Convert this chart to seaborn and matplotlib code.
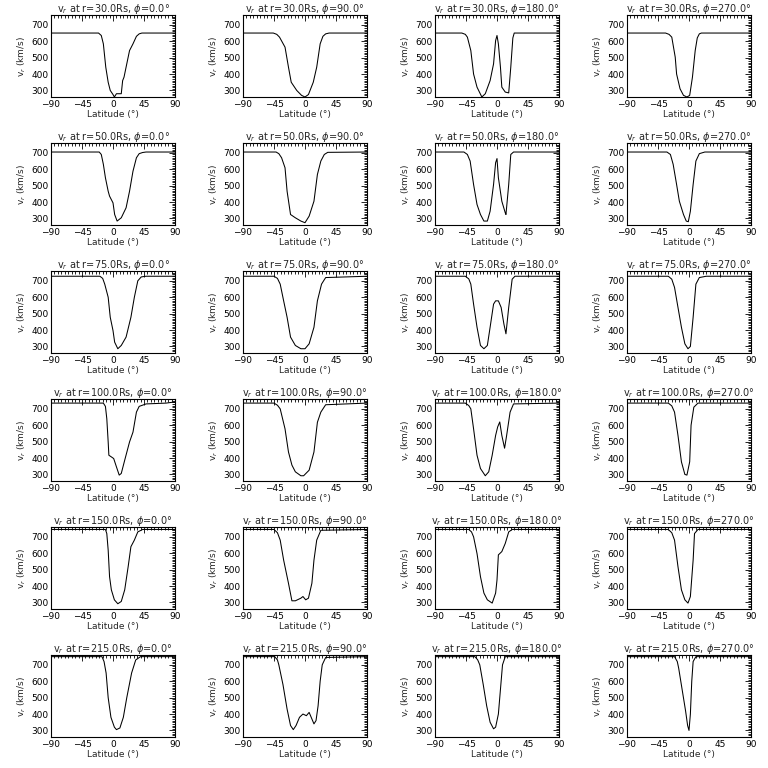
import numpy as np
import matplotlib
matplotlib.use("Agg")
import matplotlib.pyplot as plt
from matplotlib.ticker import MultipleLocator
import seaborn as sns

# radii (rows) and longitudes (columns)
radii = [30.0, 50.0, 75.0, 100.0, 150.0, 215.0]
phis = [0.0, 90.0, 180.0, 270.0]
xticks = [-90, -45, 0, 45, 90]
yticks = [300, 400, 500, 600, 700]

# r = 30 Rs
lat_30_0 = [-90, -21, -17, -14, -10.5, -7, -4, 0, 2, 5, 12, 14, 16, 19, 24, 29, 34, 38, 42, 90]
v_30_0 = [650, 650, 635, 584, 442, 350, 300, 275, 260, 280, 280, 360, 381, 442, 543, 584, 630, 645, 650, 650]
lat_30_90 = [-90, -46, -41, -37, -29, -24, -20, -12, -5, 0, 5, 12, 17, 22, 26, 30, 35, 90]
v_30_90 = [650, 650, 642, 625, 564, 442, 350, 300, 270, 260, 275, 350, 442, 584, 630, 645, 650, 650]
lat_30_180 = [-90, -51, -46, -43, -38, -34, -29, -22, -17, -10, -5, -2, 0, 2, 5, 7, 12, 17, 20, 23, 25, 90]
v_30_180 = [650, 650, 642, 625, 543, 400, 320, 260, 280, 360, 462, 604, 635, 584, 442, 320, 290, 285, 442, 620, 650, 650]
lat_30_270 = [-90, -34, -29, -25, -20, -18, -13, -8, -3, 1, 5, 9, 12, 15, 18, 90]
v_30_270 = [650, 650, 642, 625, 503, 400, 310, 270, 260, 270, 381, 543, 620, 645, 650, 650]

# r = 50 Rs
lat_50_0 = [-90, -20, -17, -14, -11, -7, -5, 0, 2.4, 6, 12, 19, 24, 29, 34, 38, 43, 48, 90]
v_50_0 = [705, 705, 690, 630, 548, 466, 436, 395, 324, 284, 304, 365, 466, 588, 670, 695, 702, 705, 705]
lat_50_90 = [-90, -42, -38, -34, -29, -26, -21, -14, -6, 0, 6, 13, 18, 23, 28, 33, 90]
v_50_90 = [705, 705, 695, 670, 609, 466, 324, 304, 284, 274, 314, 405, 568, 650, 690, 703, 705]
lat_50_180 = [-90, -48, -43, -39, -34, -29, -24, -19, -14, -10, -5, -2, 0, 2, 7, 12, 13, 17, 20, 24, 90]
v_50_180 = [705, 705, 690, 650, 507, 385, 324, 284, 284, 344, 507, 640, 665, 548, 405, 334, 324, 507, 690, 705, 705]
lat_50_270 = [-90, -32, -27, -23, -18, -14, -8, -4, -1, 2, 6, 10, 15, 23, 90]
v_50_270 = [705, 705, 690, 630, 507, 405, 324, 284, 280, 344, 507, 650, 695, 705, 705]

# r = 75 Rs
lat_75_0 = [-90, -19, -15, -12, -7, -4, 0, 2.4, 7, 12, 19, 26, 31, 36, 41, 48, 90]
v_75_0 = [728, 728, 715, 680, 600, 478, 397, 326, 286, 306, 357, 478, 600, 700, 724, 728, 728]
lat_75_90 = [-90, -45, -40, -36, -31, -26, -21, -14, -6, 0, 6, 13, 18, 24, 30, 90]
v_75_90 = [728, 728, 715, 680, 578, 478, 357, 306, 286, 286, 316, 417, 578, 680, 720, 728]
lat_75_180 = [-90, -46, -41, -38, -34, -29, -24, -19, -14, -10, -5, -2, 2, 6, 10, 13, 17, 22, 26, 90]
v_75_180 = [728, 728, 712, 680, 558, 417, 306, 286, 306, 417, 558, 578, 578, 538, 437, 377, 538, 710, 728, 728]
lat_75_270 = [-90, -30, -25, -21, -16, -11, -6, -1.5, 2, 6, 10, 15, 25, 90]
v_75_270 = [728, 728, 710, 660, 538, 417, 316, 286, 300, 478, 680, 720, 728, 728]

# r = 100 Rs
lat_100_0 = [-90, -14, -11, -9, -7, -6, -2.4, 1, 5, 9, 12, 17, 24, 29, 34, 38, 48, 77, 86, 90]
v_100_0 = [735, 735, 715, 640, 498, 417, 407, 397, 346, 296, 306, 387, 498, 558, 680, 715, 730, 735, 740, 740]
lat_100_90 = [-90, -45, -40, -36, -29, -24, -19, -14, -6, -2, 6, 13, 18, 23, 30, 90]
v_100_90 = [735, 735, 722, 700, 578, 437, 357, 316, 292, 292, 326, 437, 618, 680, 725, 735]
lat_100_180 = [-90, -46, -41, -38, -34, -29, -24, -17, -12, -7, -2, 1, 4, 7, 11, 14, 19, 24, 90]
v_100_180 = [735, 735, 720, 700, 578, 417, 336, 292, 316, 417, 538, 590, 620, 538, 460, 538, 680, 730, 735]
lat_100_270 = [-90, -30, -25, -21, -16, -11, -6, -3, 1, 3, 7, 13, 90]
v_100_270 = [735, 735, 718, 680, 538, 377, 300, 296, 377, 600, 710, 735, 735]

# r = 150 Rs
lat_150_0 = [-90, -11, -9, -7, -5, -2.4, 2, 7, 12, 17, 22, 26, 31, 36, 43, 90]
v_150_0 = [745, 745, 720, 619, 457, 377, 316, 292, 306, 377, 518, 640, 680, 730, 745, 745]
lat_150_90 = [-90, -45, -40, -36, -31, -24, -19, -14, -6, -3, 1, 5, 10, 13, 17, 23, 90]
v_150_90 = [745, 745, 725, 680, 558, 417, 310, 310, 326, 336, 316, 326, 417, 558, 680, 740, 745]
lat_150_180 = [-90, -41, -37, -34, -29, -24, -19, -14, -7, -2, 0, 2, 7, 12, 17, 22, 90]
v_150_180 = [745, 745, 730, 700, 598, 457, 357, 316, 296, 357, 437, 590, 610, 660, 730, 745, 745]
lat_150_270 = [-90, -30, -25, -21, -16, -11, -6, -1.5, 2, 6, 8, 13, 90]
v_150_270 = [745, 745, 725, 680, 518, 377, 316, 296, 336, 558, 720, 745, 745]

# r = 215 Rs
lat_215_0 = [-90, -16, -13, -10, -7, -3, 2, 5, 10, 15, 20, 27, 33, 40, 90]
v_215_0 = [750, 750, 720, 650, 500, 380, 320, 305, 315, 380, 500, 650, 730, 750, 750]
lat_215_90 = [-90, -44, -40, -38, -32, -26, -21, -17, -13, -8, -3, 2, 6, 10, 13, 16, 19, 22, 25, 30, 90]
v_215_90 = [750, 750, 730, 700, 580, 430, 330, 305, 330, 380, 400, 390, 410, 370, 340, 360, 450, 600, 700, 745, 750]
lat_215_180 = [-90, -32, -28, -25, -20, -15, -10, -5, -2, 2, 5, 8, 12, 90]
v_215_180 = [750, 750, 730, 700, 580, 450, 350, 310, 320, 400, 550, 700, 750, 750]
lat_215_270 = [-90, -21, -17, -15, -10, -5, -2, 0, 2, 4, 6, 10, 90]
v_215_270 = [750, 750, 720, 680, 550, 420, 330, 300, 400, 600, 720, 750, 750]

panels = [
    [(lat_30_0, v_30_0), (lat_30_90, v_30_90), (lat_30_180, v_30_180), (lat_30_270, v_30_270)],
    [(lat_50_0, v_50_0), (lat_50_90, v_50_90), (lat_50_180, v_50_180), (lat_50_270, v_50_270)],
    [(lat_75_0, v_75_0), (lat_75_90, v_75_90), (lat_75_180, v_75_180), (lat_75_270, v_75_270)],
    [(lat_100_0, v_100_0), (lat_100_90, v_100_90), (lat_100_180, v_100_180), (lat_100_270, v_100_270)],
    [(lat_150_0, v_150_0), (lat_150_90, v_150_90), (lat_150_180, v_150_180), (lat_150_270, v_150_270)],
    [(lat_215_0, v_215_0), (lat_215_90, v_215_90), (lat_215_180, v_215_180), (lat_215_270, v_215_270)],
]

sns.set_style("white")
plt.rcParams["font.family"] = ["DejaVu Sans"]
plt.rcParams["mathtext.fontset"] = "dejavusans"

fig = plt.figure(figsize=(7.68, 7.68), dpi=100)
W = 768.0
fs = 6.5

for i, r in enumerate(radii):
    for j, phi in enumerate(phis):
        lat, v = panels[i][j]
        left = (j * 192 + 51) / W
        bottom = 1 - (i * 128 + 97) / W
        ax = fig.add_axes([left, bottom, 124 / W, 82 / W])
        sns.lineplot(x=lat, y=v, ax=ax, color="black", linewidth=0.75,
                     errorbar=None, sort=False)
        ax.set_xlim(-90, 90)
        ax.set_ylim(260, 760)
        ax.set_xticks(xticks)
        ax.set_yticks(yticks)
        ax.xaxis.set_minor_locator(MultipleLocator(5))
        ax.yaxis.set_minor_locator(MultipleLocator(10))
        ax.tick_params(which="both", direction="in", top=True, right=True,
                       labelsize=fs, pad=2, width=0.6, colors="black")
        ax.tick_params(which="major", length=4)
        ax.tick_params(which="minor", length=2)
        for s in ax.spines.values():
            s.set_color("black")
            s.set_linewidth(0.8)
        ax.set_title(r"v$_r$ at r=%.1fRs, $\phi$=%.1f°" % (r, phi),
                     fontsize=fs + 0.5, pad=2)
        ax.set_xlabel("Latitude (°)", fontsize=fs, labelpad=1)
        ax.set_ylabel(r"v$_r$ (km/s)", fontsize=fs, labelpad=2)

fig.savefig("out.png", dpi=100, facecolor="white")
